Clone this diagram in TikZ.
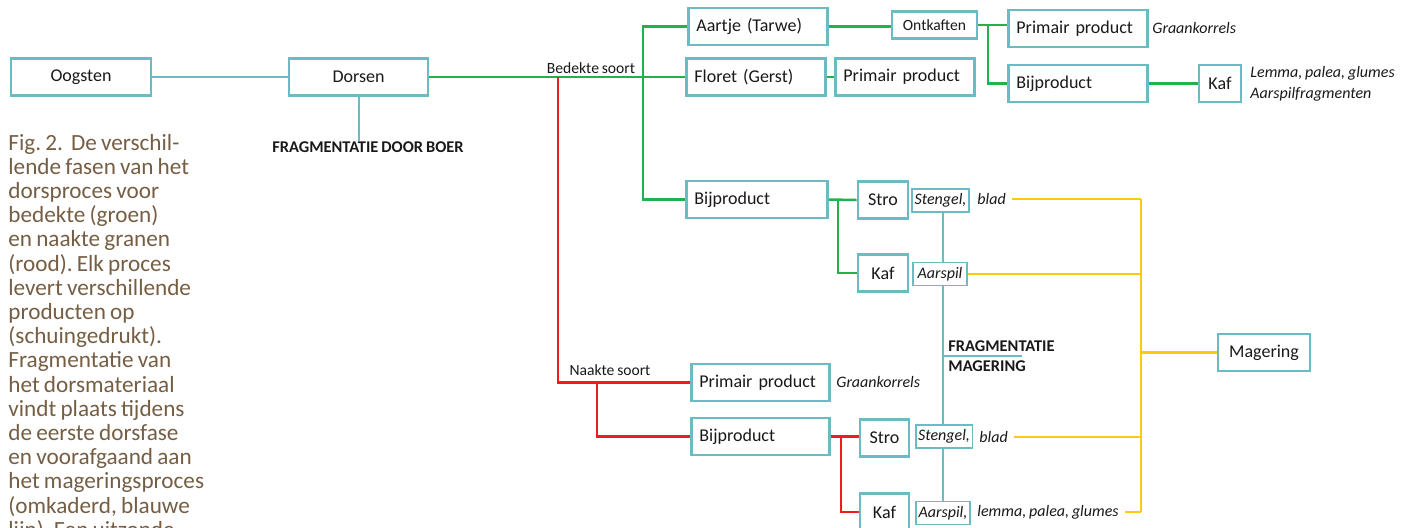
\documentclass[tikz,border=0pt]{standalone}
\usepackage{fontspec}
\setmainfont{Carlito}[WordSpace={0.8}]
\frenchspacing
\usetikzlibrary{backgrounds}
\definecolor{tl}{RGB}{108,186,194}
\definecolor{gr}{RGB}{34,177,76}
\definecolor{rd}{RGB}{237,28,36}
\definecolor{yl}{RGB}{255,201,14}
\definecolor{brn}{RGB}{117,94,67}
\definecolor{txt}{RGB}{25,25,25}
\begin{document}
\begin{tikzpicture}[x=0.5pt,y=-0.5pt,
  box/.style={draw=tl, line width=1.4pt, fill=white, inner sep=0pt, minimum height=18.5pt, font=\fontsize{9}{10}\selectfont, text=txt},
  lbox/.style={box, text width=61.5pt, inner xsep=4pt, align=left, anchor=west},
  cbox/.style={box, minimum width=#1},
  ibox/.style={draw=tl, line width=0.8pt, fill=white, inner xsep=1.2pt, inner ysep=0pt, minimum height=11.5pt, minimum width=#1, font=\fontsize{8}{9}\selectfont\itshape, text=txt},
  ann/.style={font=\fontsize{8}{9}\selectfont\itshape, inner sep=0pt, anchor=west, text=txt},
  sml/.style={font=\fontsize{7.8}{9}\selectfont, inner sep=0pt, text=txt},
  bl/.style={font=\fontsize{8.2}{9.5}\selectfont\bfseries, inner sep=0pt, text=txt, align=left},
  captxt/.style={font=\fontsize{11.6}{12}\selectfont, text=brn, inner sep=0pt, anchor=base west},
  gline/.style={draw=gr, line width=1.25pt},
  rline/.style={draw=rd, line width=1.25pt},
  yline/.style={draw=yl, line width=1.25pt},
  tline/.style={draw=tl, line width=1pt}]
\useasboundingbox (0,0) rectangle (1411,527);

% caption
\foreach \t [count=\i from 0] in {{Fig. 2.\hspace{0.35em}De verschil-},{lende fasen van het},{dorsproces voor},{bedekte (groen)},{en naakte granen},{(rood). Elk proces},{levert verschillende},{producten op},{(schuingedrukt).},{Fragmentatie van},{het dorsmateriaal},{vindt plaats tijdens},{de eerste dorsfase},{en voorafgaand aan},{het mageringsproces},{(omkaderd, blauwe},{lijn). Een uitzonde}}
  \node[captxt] (capline\i) at (8,{150+\i*24.2}) {\t};

% boxes
\node[cbox=70pt] (oogsten) at (81,77) {Oogsten};
\node[cbox=69.5pt] (dorsen) at (358.5,77) {Dorsen};
\node[bl, anchor=center] (fboer) at (368,147) {FRAGMENTATIE DOOR BOER};

\node[lbox] (aartje) at (687,26.5) {Aartje (Tarwe)};
\node[lbox] (floret) at (685,77) {Floret (Gerst)};
\node[lbox] (ppF) at (834,77) {Primair product};
\node[box, minimum width=42.5pt, minimum height=13.5pt, font=\fontsize{7.8}{9}\selectfont] (ontk) at (934.5,25) {Ontkaften};
\node[lbox] (ppT) at (1007,28.5) {Primair product};
\node[lbox] (bijT) at (1007,83.5) {Bijproduct};
\node[cbox=21pt] (kafT) at (1220,83.5) {Kaf};
\node[ann] (grT) at (1152,28) {Graankorrels};
\node[ann, align=left, font=\fontsize{8}{10.5}\selectfont\itshape] (lemT) at (1250,84) {Lemma, palea, glumes\\Aarspilfragmenten};

\node[sml, anchor=center] (bedekt) at (591,68) {Bedekte soort};

\node[lbox, text width=62.5pt] (bijG) at (685,199.5) {Bijproduct};
\node[cbox=25pt] (stroG) at (883,200) {Stro};
\node[cbox=25pt] (kafG) at (883,273) {Kaf};

\node[sml, anchor=center] (naakt) at (610,370) {Naakte soort};
\node[lbox, text width=61pt] (ppN) at (690,382.5) {Primair product};
\node[ann] (grN) at (836,382) {Graankorrels};
\node[lbox, text width=61pt] (bijN) at (690,436.5) {Bijproduct};
\node[cbox=24.5pt] (stroN) at (884.5,438) {Stro};
\node[cbox=24.5pt] (kafN) at (884.5,512) {Kaf};

\node[cbox=46pt] (mager) at (1264,352.5) {Magering};

% teal fragmentation line (behind boxes)
\coordinate (tv) at (943,0);
\coordinate (fmj) at (943,356);
\coordinate (fme) at (1022,356);
\node[bl, anchor=west] (fmag) at (948,356) {FRAGMENTATIE\\[0.5pt]MAGERING};

\node[ibox=27.5pt] (sten1) at (940.5,200.5) {Stengel,};
\node[ann] (blad1) at (977,199) {blad};
\node[ibox=27pt] (aar1) at (940,274) {Aarspil};
\node[ibox=28pt] (sten2) at (944,436.5) {Stengel,};
\node[ann] (blad2) at (979,437) {blad};
\node[ibox=27pt] (aar2) at (943,513) {Aarspil,};
\node[ann] (glum2) at (977,512) {lemma, palea, glumes};

\begin{scope}[on background layer]
  \draw[tl, line width=0.9pt] (sten1.south -| tv) -- (aar2.north -| tv);
  \draw[tl, line width=0.9pt] (fmj) -- (fme);
\end{scope}

% teal connectors
\draw[tline] (oogsten.east) -- (dorsen.west);
\draw[tline] (dorsen.south -| 359,0) -- (fboer.north -| 359,0);

% green connectors
\coordinate (gt) at (643,77);
\coordinate (gj1) at (988,26);
\coordinate (gj2) at (838,200);
\draw[gline] (dorsen.east) -- (gt);
\draw[gline] (aartje.west) -| (gt) |- (bijG.west);
\draw[gline] (gt) -- (floret.west);
\draw[gline] (floret.east) -- (ppF.west);
\draw[gline] (aartje.east) -- (aartje.east -| ontk.west);
\draw[gline] (ontk.east) -- (ontk.east -| ppT.west);
\draw[gline] (gj1) |- (bijT.west);
\draw[gline] (bijT.east) -- (kafT.west);
\draw[gline] (bijG.east) -- (stroG.west);
\draw[gline] (gj2) |- (kafG.west);

% red connectors
\coordinate (rj) at (558,77);
\coordinate (rj2) at (597,382);
\coordinate (rj3) at (841,437);
\draw[rline] (rj) |- (ppN.west);
\draw[rline] (rj2) |- (bijN.west);
\draw[rline] (bijN.east) -- (bijN.east -| stroN.west);
\draw[rline] (rj3) |- (kafN.west);

% yellow connectors
\coordinate (yb) at (1141,352.5);
\draw[yline] ([xshift=3pt]blad1.east) -- (blad1.east -| yb);
\draw[yline] (aar1.east) -- (aar1.east -| yb);
\draw[yline] ([xshift=3pt]blad2.east) -- (blad2.east -| yb);
\draw[yline] ([xshift=3pt]glum2.east) -- (glum2.east -| yb);
\draw[yline] (blad1.east -| yb) -- (glum2.east -| yb);
\draw[yline] (yb) -- (mager.west);
\end{tikzpicture}
\end{document}
